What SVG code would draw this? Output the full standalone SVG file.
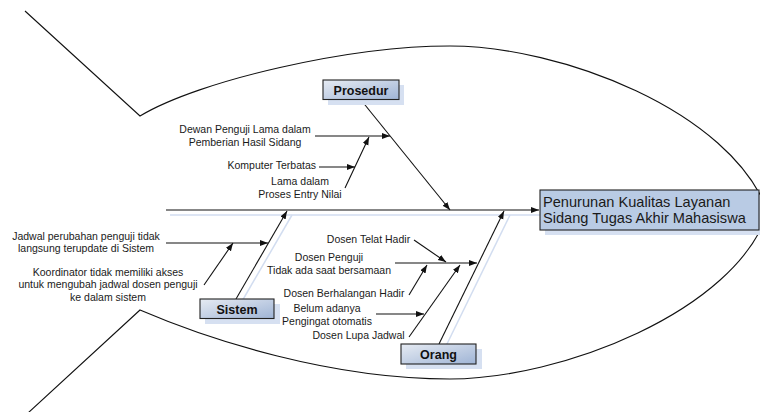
<svg xmlns="http://www.w3.org/2000/svg" width="760" height="412" viewBox="0 0 760 412">
<style>
  .outline{fill:none;stroke:#111;stroke-width:1.1}
  .arr{fill:none;stroke:#111;stroke-width:1.1;marker-end:url(#ah)}
  .shd{fill:none;stroke:#d2ddf0;stroke-width:1.5}
  .t{font-family:"Liberation Sans",Arial,sans-serif;font-size:10.5px;fill:#1a1a1a;text-anchor:middle}
  .lbl{font-family:"Liberation Sans",Arial,sans-serif;font-size:12.5px;font-weight:bold;fill:#111;text-anchor:middle}
  .eff{font-family:"Liberation Sans",Arial,sans-serif;font-size:14.6px;fill:#1a1a1a}
  .box{fill:url(#gb);stroke:#222;stroke-width:1.1}
  .boxshd{fill:#d6e0f1}
</style>
<defs>
  <marker id="ah" markerUnits="userSpaceOnUse" markerWidth="9" markerHeight="7" refX="8" refY="3" orient="auto">
    <path d="M0,0 L8,3 L0,6 z" fill="#111"/>
  </marker>
  <linearGradient id="gb" x1="0" y1="0" x2="1" y2="1">
    <stop offset="0" stop-color="#e6ebf3"/>
    <stop offset="1" stop-color="#9fb4d5"/>
  </linearGradient>
</defs>
<rect width="760" height="412" fill="#fff"/>
<g id="fish-outline">
  <path class="outline" d="M25,11 L140,116 C200,80 350,46 450,46 C560,46 730,110 768,212"/>
  <path class="outline" d="M28,413 L140,310 C210,340 330,379 450,379 C560,379 735,312 768,212"/>
</g>
<g id="connectors">
  <g id="shadows">
    <line class="shd" x1="170" y1="215" x2="541" y2="215"/>
    <line class="shd" x1="241" y1="303" x2="292" y2="215"/>
    <line class="shd" x1="445" y1="348" x2="510" y2="215"/>
  </g>
  <line class="arr" x1="166" y1="210" x2="539" y2="210"/>
  <line class="arr" x1="361" y1="100" x2="450" y2="210"/>
  <line class="arr" x1="236" y1="299" x2="287" y2="211"/>
  <line class="arr" x1="439" y1="344" x2="504" y2="211"/>
  <line class="arr" x1="315" y1="136" x2="390" y2="136"/>
  <line class="arr" x1="345" y1="188" x2="369" y2="137"/>
  <line class="arr" x1="319" y1="167" x2="355" y2="167"/>
  <line class="arr" x1="166" y1="243" x2="268" y2="243"/>
  <line class="arr" x1="204" y1="285" x2="233" y2="243"/>
  <line class="arr" x1="395" y1="263" x2="477" y2="263"/>
  <line class="arr" x1="414" y1="240" x2="446" y2="262"/>
  <line class="arr" x1="409" y1="295" x2="427" y2="265"/>
  <line class="arr" x1="409" y1="337" x2="460" y2="265"/>
  <line class="arr" x1="376" y1="314" x2="424" y2="314"/>
</g>
<g id="effect">
  <rect class="boxshd" x="545" y="195" width="220" height="40"/>
  <rect x="540" y="190" width="219" height="40" fill="#b9cbe4" stroke="#222" stroke-width="1.1"/>
  <text class="eff" x="543" y="206.5">Penurunan Kualitas Layanan</text>
  <text class="eff" x="543" y="223">Sidang Tugas Akhir Mahasiswa</text>
</g>
<g id="cat-prosedur">
  <rect class="boxshd" x="328" y="85" width="76" height="20"/>
  <rect class="box" x="323" y="80" width="76" height="19.5"/>
  <text class="lbl" x="361" y="94.5">Prosedur</text>
</g>
<g id="cat-sistem">
  <rect class="boxshd" x="205" y="304" width="75" height="20"/>
  <rect class="box" x="200" y="299" width="74" height="19.5"/>
  <text class="lbl" x="237" y="313.5">Sistem</text>
</g>
<g id="cat-orang">
  <rect class="boxshd" x="406" y="349" width="76" height="20"/>
  <rect class="box" x="401" y="344" width="75" height="20"/>
  <text class="lbl" x="438.5" y="358.5">Orang</text>
</g>
<g id="cause-dewan"><text class="t" x="245" y="133"><tspan x="245">Dewan Penguji Lama dalam</tspan><tspan x="245" dy="12.5">Pemberian Hasil Sidang</tspan></text></g>
<g id="cause-komputer"><text class="t" x="316" y="169" style="text-anchor:end">Komputer Terbatas</text></g>
<g id="cause-lama"><text class="t" x="300" y="185"><tspan x="300">Lama dalam</tspan><tspan x="300" dy="12.5">Proses Entry Nilai</tspan></text></g>
<g id="cause-jadwal"><text class="t" x="86" y="239.5"><tspan x="86">Jadwal perubahan penguji tidak</tspan><tspan x="86" dy="12">langsung terupdate di Sistem</tspan></text></g>
<g id="cause-koordinator"><text class="t" x="108" y="275.5"><tspan x="108">Koordinator tidak memiliki akses</tspan><tspan x="108" dy="12.7">untuk mengubah jadwal dosen penguji</tspan><tspan x="108" dy="12.7">ke dalam sistem</tspan></text></g>
<g id="cause-telat"><text class="t" x="368.5" y="243">Dosen Telat Hadir</text></g>
<g id="cause-penguji"><text class="t" x="329" y="261"><tspan x="329">Dosen Penguji</tspan><tspan x="329" dy="12.8">Tidak ada saat bersamaan</tspan></text></g>
<g id="cause-berhalangan"><text class="t" x="344" y="297">Dosen Berhalangan Hadir</text></g>
<g id="cause-pengingat"><text class="t" x="327" y="312"><tspan x="327">Belum adanya</tspan><tspan x="327" dy="12.5">Pengingat otomatis</tspan></text></g>
<g id="cause-lupa"><text class="t" x="358.5" y="339">Dosen Lupa Jadwal</text></g>
</svg>
